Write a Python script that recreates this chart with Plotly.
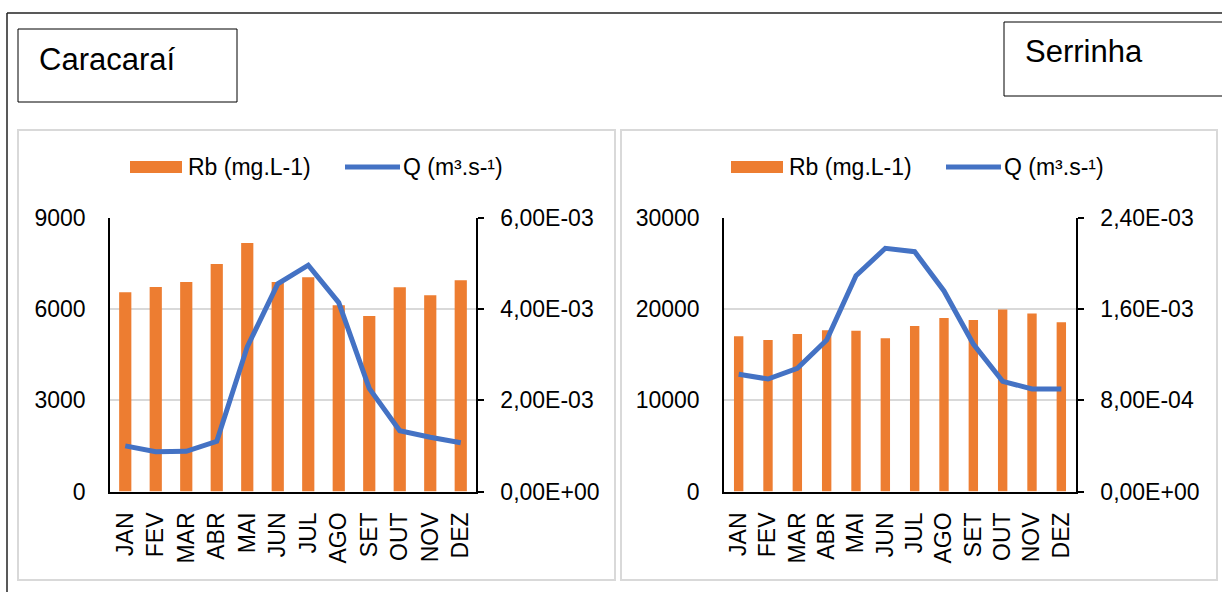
import plotly.graph_objects as go

W, H = 1222, 592

months = ["JAN", "FEV", "MAR", "ABR", "MAI", "JUN", "JUL", "AGO", "SET", "OUT", "NOV", "DEZ"]

rb_caracarai = [6550, 6720, 6890, 7480, 8170, 6890, 7040, 6120, 5770, 6710, 6450, 6940]
q_caracarai = [1.00e-3, 0.87e-3, 0.88e-3, 1.10e-3, 3.17e-3, 4.55e-3, 4.96e-3, 4.14e-3,
               2.26e-3, 1.33e-3, 1.19e-3, 1.07e-3]

rb_serrinha = [17010, 16600, 17260, 17670, 17620, 16790, 18140, 19020, 18800, 19930, 19490, 18540]
q_serrinha = [1.027e-3, 0.986e-3, 1.08e-3, 1.328e-3, 1.892e-3, 2.132e-3, 2.102e-3, 1.758e-3,
              1.293e-3, 0.966e-3, 0.899e-3, 0.899e-3]

car_left_ticks = [0, 3000, 6000, 9000]
car_left_text = ["0", "3000", "6000", "9000"]
car_right_ticks = [0, 2e-3, 4e-3, 6e-3]
car_right_text = ["0,00E+00", "2,00E-03", "4,00E-03", "6,00E-03"]
ser_left_ticks = [0, 10000, 20000, 30000]
ser_left_text = ["0", "10000", "20000", "30000"]
ser_right_ticks = [0, 8e-4, 1.6e-3, 2.4e-3]
ser_right_text = ["0,00E+00", "8,00E-04", "1,60E-03", "2,40E-03"]

titles = ["Caracaraí", "Serrinha"]
legend_bar = "Rb (mg.L-1)"
legend_line = "Q (m³.s-¹)"

ORANGE = "#ED7D31"
BLUE = "#4472C4"
GRID = "#D9D9D9"
FONT = "Liberation Sans, Arial, sans-serif"


def px(x):
    return x / W


def py(y):
    return 1 - y / H


fig = go.Figure()

fig.add_trace(go.Bar(x=months, y=rb_caracarai, marker_color=ORANGE, width=0.4,
                     xaxis="x", yaxis="y", showlegend=False))
fig.add_trace(go.Scatter(x=months, y=q_caracarai, mode="lines",
                         line=dict(color=BLUE, width=5),
                         xaxis="x", yaxis="y2", showlegend=False))
fig.add_trace(go.Bar(x=months, y=rb_serrinha, marker_color=ORANGE, width=0.32,
                     xaxis="x2", yaxis="y3", showlegend=False))
fig.add_trace(go.Scatter(x=months, y=q_serrinha, mode="lines",
                         line=dict(color=BLUE, width=5),
                         xaxis="x2", yaxis="y4", showlegend=False))

tickfont = dict(family=FONT, size=23, color="#000000")
ydom = [py(491.5), py(217.7)]

xcommon = dict(showline=True, linecolor="#000000", linewidth=1.5, ticks="",
               tickangle=-90, tickfont=tickfont, showgrid=False, automargin=False,
               ticklabelstandoff=10, fixedrange=True)
ycommon_left = dict(showline=True, linecolor="#000000", linewidth=1.5, ticks="",
                    showgrid=True, gridcolor=GRID, gridwidth=1.5, zeroline=False,
                    automargin=False, tickfont=tickfont, ticklabelstandoff=18, domain=ydom)
ycommon_right = dict(showline=True, linecolor="#000000", linewidth=1.5, ticks="outside",
                     ticklen=6, tickwidth=1.5, tickcolor="#000000", side="right",
                     showgrid=False, zeroline=False, tickfont=tickfont, automargin=False,
                     ticklabelstandoff=12)

fig.update_layout(
    template="none",
    width=W, height=H,
    autosize=False,
    showlegend=False,
    margin=dict(l=0, r=0, t=0, b=0, pad=0, autoexpand=False),
    paper_bgcolor="white", plot_bgcolor="white",
    xaxis=dict(domain=[px(110), px(476)], anchor="y", **xcommon),
    yaxis=dict(anchor="x", range=[0, 9000], tickvals=car_left_ticks,
               ticktext=car_left_text, **ycommon_left),
    yaxis2=dict(anchor="x", overlaying="y", range=[0, 6e-3], tickvals=car_right_ticks,
                ticktext=car_right_text, **ycommon_right),
    xaxis2=dict(domain=[px(724), px(1076)], anchor="y3", **xcommon),
    yaxis3=dict(anchor="x2", range=[0, 30000], tickvals=ser_left_ticks,
                ticktext=ser_left_text, **ycommon_left),
    yaxis4=dict(anchor="x2", overlaying="y3", range=[0, 2.4e-3], tickvals=ser_right_ticks,
                ticktext=ser_right_text, **ycommon_right),
    font=dict(family=FONT, color="#000000"),
)

shapes = []


def hline(x0, x1, y, color, width):
    shapes.append(dict(type="line", xref="paper", yref="paper", x0=px(x0), x1=px(x1),
                       y0=py(y), y1=py(y), line=dict(color=color, width=width)))


def vline(x, y0, y1, color, width):
    shapes.append(dict(type="line", xref="paper", yref="paper", x0=px(x), x1=px(x),
                       y0=py(y0), y1=py(y1), line=dict(color=color, width=width)))


# outer frame (only top and left edges are visible)
hline(7, W, 13, "#222222", 1.5)
vline(7, 13, H, "#222222", 1.5)
# chart panels
for x0, x1 in [(18, 615), (621, 1217)]:
    shapes.append(dict(type="rect", xref="paper", yref="paper", x0=px(x0), x1=px(x1),
                       y0=py(130), y1=py(580), line=dict(color=GRID, width=2)))
# title boxes
shapes.append(dict(type="rect", xref="paper", yref="paper", x0=px(18), x1=px(237),
                   y0=py(29), y1=py(102), line=dict(color="#000000", width=1)))
hline(1004, W, 22, "#000000", 1)
hline(1004, W, 96, "#000000", 1)
vline(1004, 22, 96, "#000000", 1)

annotations = []
annotations.append(dict(text=titles[0], xref="paper", yref="paper", x=px(37), y=py(60),
                        xanchor="left", yanchor="middle", showarrow=False,
                        font=dict(family=FONT, size=31, color="#000000")))
annotations.append(dict(text=titles[1], xref="paper", yref="paper", x=px(1023), y=py(52),
                        xanchor="left", yanchor="middle", showarrow=False,
                        font=dict(family=FONT, size=31, color="#000000")))

# manual legends
for off in [0, 601]:
    shapes.append(dict(type="rect", xref="paper", yref="paper",
                       x0=px(130 + off), x1=px(182 + off), y0=py(161), y1=py(173),
                       fillcolor=ORANGE, line=dict(width=0)))
    shapes.append(dict(type="line", xref="paper", yref="paper",
                       x0=px(345 + off), x1=px(400 + off), y0=py(167), y1=py(167),
                       line=dict(color=BLUE, width=5)))
    annotations.append(dict(text=legend_bar, xref="paper", yref="paper", x=px(186 + off),
                            y=py(167), xanchor="left", yanchor="middle", showarrow=False,
                            font=dict(family=FONT, size=23, color="#000000")))
    annotations.append(dict(text=legend_line, xref="paper", yref="paper", x=px(401 + off),
                            y=py(167), xanchor="left", yanchor="middle", showarrow=False,
                            font=dict(family=FONT, size=23, color="#000000")))

fig.update_layout(shapes=shapes, annotations=annotations)

fig.write_html("out.html", config={"displayModeBar": False, "responsive": False},
               post_script="document.body.style.margin='0';document.body.style.overflow='hidden';")
